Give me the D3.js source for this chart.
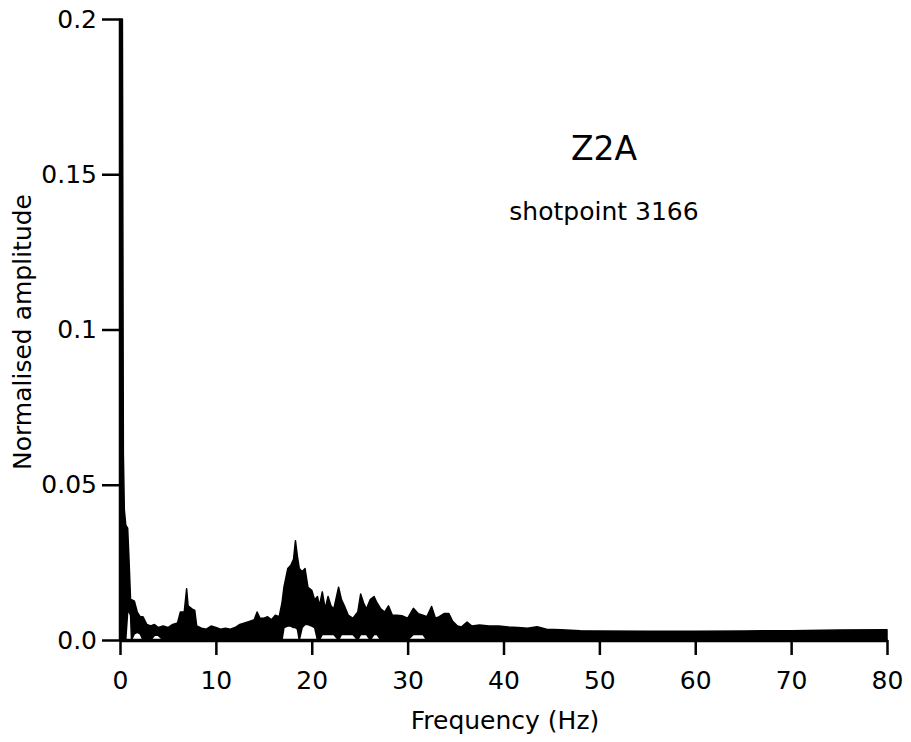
<!DOCTYPE html>
<html>
<head>
<meta charset="utf-8">
<script src="https://cdn.jsdelivr.net/npm/d3@7"></script>
<style>
  html, body { margin: 0; padding: 0; background: #fff; }
  svg { display: block; }
  text { font-family: "DejaVu Sans", sans-serif; fill: #000; }
</style>
</head>
<body>
<svg id="chart" width="911" height="742"></svg>
<script>
// ---- data ----
const freq = [0.0, 0.25, 0.35, 0.45, 0.6, 0.8, 0.95, 1.1, 1.2, 1.5, 1.8, 2.1, 2.4, 2.8, 3.2, 3.6, 4.0, 4.5, 5.0, 5.5,
  6.0, 6.3, 6.7, 6.95, 7.1, 7.5, 7.8, 8.0, 8.5, 9.0, 9.5, 10.0, 10.5, 11.0, 11.5, 12.0, 12.5, 13.0, 13.5, 14.0,
  14.3, 14.6, 15.0, 15.4, 15.8, 16.2, 16.6, 16.9, 17.1, 17.5, 17.8, 18.1, 18.3, 18.5, 18.7, 19.0, 19.3, 19.6, 20.0, 20.3,
  20.6, 20.8, 21.1, 21.4, 21.7, 22.0, 22.3, 22.8, 23.1, 23.4, 23.8, 24.3, 24.8, 25.1, 25.4, 25.7, 26.1, 26.5, 26.8, 27.2,
  27.6, 28.0, 28.4, 28.9, 29.4, 30.0, 30.6, 31.1, 31.6, 32.0, 32.5, 32.9, 33.3, 33.8, 34.3, 34.7, 35.2, 35.6, 36.2, 36.7,
  37.5, 38.5, 39.5, 40.5, 41.5, 42.5, 43.5, 44.5, 46, 48, 50, 55, 60, 65, 70, 75, 80];
const upperAmp = [0.200, 0.200, 0.060, 0.042, 0.037, 0.036, 0.025, 0.013, 0.013, 0.0125, 0.009, 0.0075, 0.0075, 0.005, 0.0045, 0.005, 0.004, 0.0045, 0.004, 0.005,
  0.0055, 0.009, 0.009, 0.0165, 0.011, 0.010, 0.0095, 0.0045, 0.0038, 0.0035, 0.0045, 0.004, 0.0035, 0.0038, 0.0035, 0.004, 0.005, 0.0055, 0.006, 0.0065,
  0.009, 0.007, 0.007, 0.0075, 0.0065, 0.008, 0.0075, 0.012, 0.017, 0.023, 0.024, 0.026, 0.032, 0.027, 0.023, 0.022, 0.023, 0.017, 0.016, 0.013,
  0.014, 0.011, 0.0155, 0.010, 0.014, 0.011, 0.010, 0.017, 0.013, 0.011, 0.008, 0.007, 0.009, 0.0148, 0.012, 0.010, 0.013, 0.014, 0.012, 0.010,
  0.009, 0.011, 0.008, 0.008, 0.0078, 0.007, 0.0102, 0.0085, 0.008, 0.0075, 0.0108, 0.007, 0.0075, 0.0085, 0.0085, 0.006, 0.0045, 0.0042, 0.0058, 0.0045,
  0.0048, 0.0045, 0.0045, 0.0042, 0.004, 0.0038, 0.0043, 0.0035, 0.0033, 0.003, 0.0029, 0.0028, 0.0028, 0.0029, 0.003, 0.0032, 0.0033];
const lowerAmp = [0, 0, 0, 0, 0, 0.009, 0.009, 0.008, 0, 0.002, 0.0025, 0.002, 0, 0, 0, 0.0015, 0.0015, 0, 0, 0,
  0, 0, 0, 0, 0, 0, 0, 0, 0, 0, 0, 0, 0, 0, 0, 0, 0, 0, 0, 0,
  0, 0, 0, 0, 0, 0, 0, 0, 0.004, 0.0045, 0.0045, 0.004, 0.004, 0.0035, 0, 0.004, 0.005, 0.005, 0.0045, 0.004,
  0, 0, 0.0018, 0.0018, 0.0018, 0.0018, 0.0018, 0, 0.0018, 0.0018, 0.0018, 0.0018, 0, 0.0018, 0.0018, 0.0018, 0, 0.0018, 0.0018, 0,
  0, 0, 0, 0, 0, 0, 0.0018, 0.0018, 0.0018, 0, 0, 0, 0, 0, 0, 0, 0, 0, 0, 0,
  0, 0, 0, 0, 0, 0, 0, 0, 0, 0, 0, 0, 0, 0, 0, 0, 0];

const xTicks = [0, 10, 20, 30, 40, 50, 60, 70, 80];
const yTicks = [0, 0.05, 0.1, 0.15, 0.2];
const yTickLabels = ["0.0", "0.05", "0.1", "0.15", "0.2"];
const xTitle = "Frequency (Hz)";
const yTitle = "Normalised amplitude";
const title = "Z2A";
const subtitle = "shotpoint 3166";

// ---- layout ----
const svg = d3.select("#chart");
const x = d3.scaleLinear().domain([0, 80]).range([120, 887]);
const y = d3.scaleLinear().domain([0, 0.2]).range([640, 19]);

const rows = freq.map((f, i) => ({ f, hi: upperAmp[i], lo: lowerAmp[i] }));

// spectrum
const area = d3.area()
  .x(d => x(d.f))
  .y0(d => y(d.lo))
  .y1(d => y(d.hi));
svg.append("path")
  .datum(rows)
  .attr("d", area)
  .attr("fill", "#000")
  .attr("stroke", "#000")
  .attr("stroke-width", 1.5)
  .attr("stroke-linejoin", "round");

// axes
const yAxis = d3.axisLeft(y)
  .tickValues(yTicks)
  .tickFormat((d, i) => yTickLabels[i])
  .tickSize(18)
  .tickSizeOuter(0)
  .tickPadding(5);
const gy = svg.append("g").attr("transform", `translate(${x(0)},0)`).call(yAxis);

const xAxis = d3.axisBottom(x)
  .tickValues(xTicks)
  .tickFormat(d3.format("d"))
  .tickSize(15)
  .tickSizeOuter(0)
  .tickPadding(16);
const gx = svg.append("g").attr("transform", `translate(0,${y(0)})`).call(xAxis);

[gx, gy].forEach(g => {
  g.select(".domain").attr("stroke", "#000").attr("stroke-width", 3.5);
  g.selectAll(".tick line").attr("stroke", "#000").attr("stroke-width", 2.5);
  g.selectAll(".tick text")
    .attr("font-family", "'DejaVu Sans', sans-serif")
    .attr("font-size", 25)
    .attr("fill", "#000");
});

// titles
svg.append("text")
  .attr("x", 505).attr("y", 729)
  .attr("text-anchor", "middle")
  .attr("font-size", 25)
  .text(xTitle);

svg.append("text")
  .attr("transform", "translate(31,332) rotate(-90)")
  .attr("text-anchor", "middle")
  .attr("font-size", 25)
  .text(yTitle);

svg.append("text")
  .attr("x", 604).attr("y", 160)
  .attr("text-anchor", "middle")
  .attr("font-size", 33)
  .text(title);

svg.append("text")
  .attr("x", 604).attr("y", 220)
  .attr("text-anchor", "middle")
  .attr("font-size", 25)
  .text(subtitle);
</script>
</body>
</html>
